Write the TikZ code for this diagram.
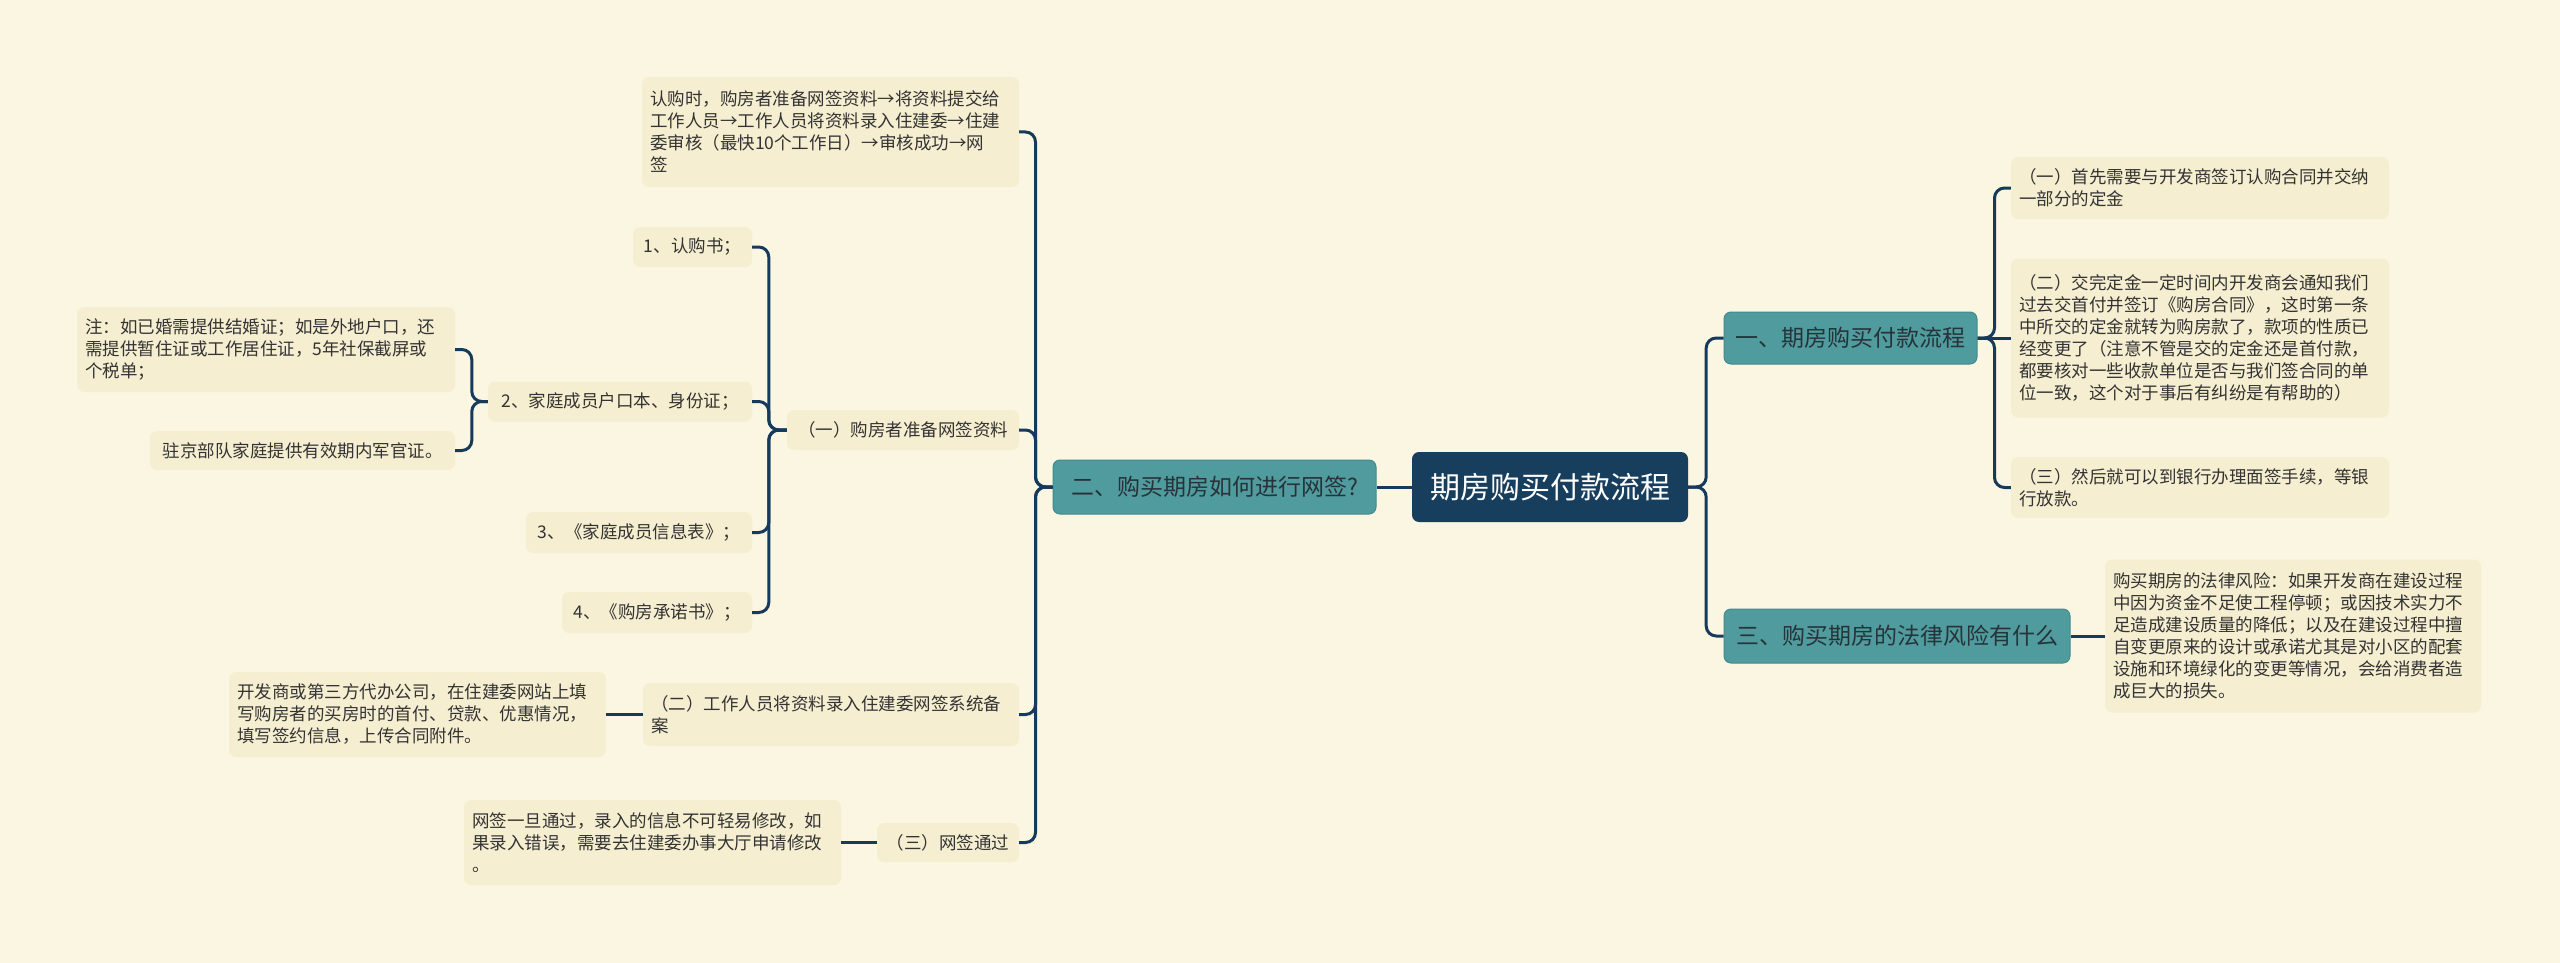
\documentclass[tikz,border=0pt]{standalone}
\usepackage{fontspec}
\newfontfamily\cjk{Noto Sans CJK SC}
\definecolor{bgc}{RGB}{250,246,226}
\definecolor{leafc}{RGB}{245,238,208}
\definecolor{linec}{RGB}{22,58,92}
\definecolor{rootc}{RGB}{24,62,94}
\definecolor{tealc}{RGB}{80,155,158}
\definecolor{tealb}{RGB}{66,138,142}
\definecolor{txtc}{RGB}{51,51,51}
\definecolor{btxt}{RGB}{38,52,58}
\begin{document}
\begin{tikzpicture}[x=1pt,y=-1pt,
 leaf/.style={fill=leafc, rounded corners=7pt, inner xsep=8pt, inner ysep=0pt, text=txtc, font=\cjk\fontsize{17.5}{22}\selectfont},
 multi/.style={leaf, align=left},
 branch/.style={fill=tealc, draw=tealb, line width=1pt, rounded corners=7pt, inner sep=0pt, text=btxt, font=\cjk\fontsize{23}{28}\selectfont},
 rootbox/.style={fill=rootc, rounded corners=7pt, inner sep=0pt, text=white, font=\cjk\fontsize{30}{36}\selectfont},
 conn/.style={draw=linec, line width=3pt, rounded corners=10pt}]
\fill[bgc] (0,0) rectangle (2560,963);
\useasboundingbox (0,0) rectangle (2560,963);

% root and branches
\node[rootbox, minimum width=276pt, minimum height=70pt] (root) at (1550,487) {期房购买付款流程};
\node[branch, minimum width=253pt, minimum height=52pt] (B1) at (1850.5,338) {一、期房购买付款流程};
\node[branch, minimum width=346pt, minimum height=54pt] (B3) at (1897,636) {三、购买期房的法律风险有什么};
\node[branch, minimum width=323pt, minimum height=54pt] (B2) at (1214.5,487) {二、购买期房如何进行网签?};

% right leaves
\node[multi, text width=362pt, minimum height=62pt] (R1) at (2200,188) {（一）首先需要与开发商签订认购合同并交纳\\一部分的定金};
\node[multi, text width=362pt, minimum height=159pt] (R2) at (2200,338) {（二）交完定金一定时间内开发商会通知我们\\过去交首付并签订《购房合同》，这时第一条\\中所交的定金就转为购房款了，款项的性质已\\经变更了（注意不管是交的定金还是首付款，\\都要核对一些收款单位是否与我们签合同的单\\位一致，这个对于事后有纠纷是有帮助的）};
\node[multi, text width=362pt, minimum height=61pt] (R3) at (2200,487.5) {（三）然后就可以到银行办理面签手续，等银\\行放款。};
\node[multi, text width=360pt, minimum height=153pt] (R4) at (2293,636) {购买期房的法律风险：如果开发商在建设过程\\中因为资金不足使工程停顿；或因技术实力不\\足造成建设质量的降低；以及在建设过程中擅\\自变更原来的设计或承诺尤其是对小区的配套\\设施和环境绿化的变更等情况，会给消费者造\\成巨大的损失。};

% left leaves
\node[multi, text width=361pt, minimum height=110pt] (LT) at (830.5,132) {认购时，购房者准备网签资料→将资料提交给\\工作人员→工作人员将资料录入住建委→住建\\委审核（最快10个工作日）→审核成功→网\\签};
\node[leaf, minimum width=232pt, minimum height=40pt] (Lyi) at (903,430) {（一）购房者准备网签资料};
\node[leaf, minimum width=119pt, minimum height=40pt] (L1) at (692.5,247) {1、认购书；};
\node[leaf, minimum width=264pt, minimum height=40pt] (L2) at (620,401.5) {2、家庭成员户口本、身份证；};
\node[leaf, minimum width=226pt, minimum height=41pt] (L3) at (639,532.5) {3、《家庭成员信息表》；};
\node[leaf, minimum width=190pt, minimum height=41pt] (L4) at (657,612.5) {4、《购房承诺书》；};
\node[multi, text width=362pt, minimum height=85pt] (Note) at (266,349.5) {注：如已婚需提供结婚证；如是外地户口，还\\需提供暂住证或工作居住证，5年社保截屏或\\个税单；};
\node[leaf, minimum width=305pt, minimum height=39pt] (Army) at (302.5,450.5) {驻京部队家庭提供有效期内军官证。};
\node[multi, text width=360pt, minimum height=63pt] (Ler) at (831,714.5) {（二）工作人员将资料录入住建委网签系统备\\案};
\node[multi, text width=361pt, minimum height=85pt] (Dev) at (417.5,714.5) {开发商或第三方代办公司，在住建委网站上填\\写购房者的买房时的首付、贷款、优惠情况，\\填写签约信息，上传合同附件。};
\node[leaf, minimum width=142pt, minimum height=39pt] (Lsan) at (948,842.5) {（三）网签通过};
\node[multi, text width=361pt, minimum height=85pt] (Net) at (652.5,842.5) {网签一旦通过，录入的信息不可轻易修改，如\\果录入错误，需要去住建委办事大厅申请修改\\。};

% connectors
\draw[conn] (root.east) -- ++(18,0) |- (B1.west);
\draw[conn] (root.east) -- ++(18,0) |- (B3.west);
\draw[conn] (root.west) -- (B2.east);
\draw[conn] (B1.east) -- ++(17,0) |- (R1.west);
\draw[conn] (B1.east) -- (R2.west);
\draw[conn] (B1.east) -- ++(17,0) |- (R3.west);
\draw[conn] (B3.east) -- (R4.west);
\draw[conn] (B2.west) -- ++(-17,0) |- (LT.east);
\draw[conn] (B2.west) -- ++(-17,0) |- (Lyi.east);
\draw[conn] (B2.west) -- ++(-17,0) |- (Ler.east);
\draw[conn] (B2.west) -- ++(-17,0) |- (Lsan.east);
\draw[conn] (Lyi.west) -- ++(-18,0) |- (L1.east);
\draw[conn] (Lyi.west) -- ++(-18,0) |- (L2.east);
\draw[conn] (Lyi.west) -- ++(-18,0) |- (L3.east);
\draw[conn] (Lyi.west) -- ++(-18,0) |- (L4.east);
\draw[conn] (L2.west) -- ++(-16,0) |- (Note.east);
\draw[conn] (L2.west) -- ++(-16,0) |- (Army.east);
\draw[conn] (Ler.west) -- (Dev.east);
\draw[conn] (Lsan.west) -- (Net.east);
\end{tikzpicture}
\end{document}
